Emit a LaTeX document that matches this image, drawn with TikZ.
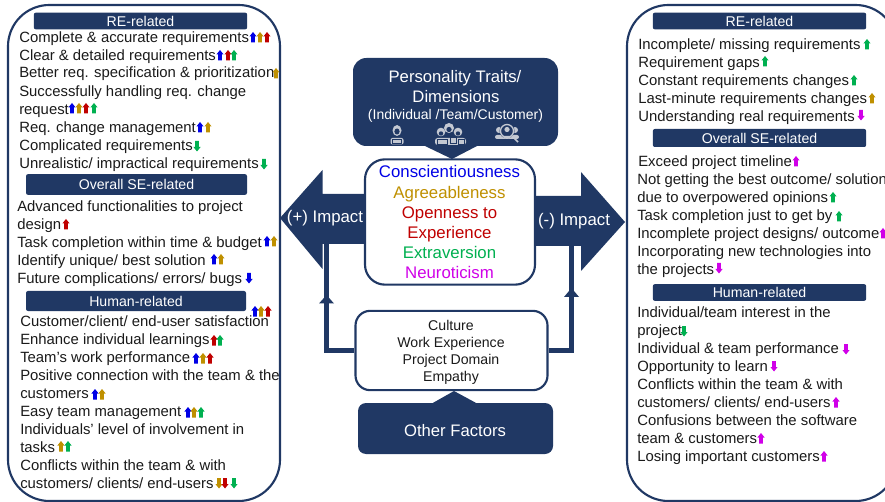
\documentclass[tikz,border=0pt]{standalone}
\usepackage{fontspec}
\setmainfont{Liberation Sans}
\usetikzlibrary{arrows.meta,calc}
\definecolor{navy}{HTML}{203864}
\definecolor{tblue}{HTML}{0000E6}
\definecolor{tgold}{HTML}{BF9000}
\definecolor{tred}{HTML}{C00000}
\definecolor{tgreen}{HTML}{00B050}
\definecolor{tpurple}{HTML}{D000E8}
\definecolor{ink}{HTML}{1A1A1A}
\definecolor{icon}{HTML}{C3C8D2}
\tikzset{
  px/.style={x=0.75pt,y=-0.75pt},
  item/.style={anchor=base west,inner sep=0pt,yshift=-0.6pt,text=ink,font=\fontsize{11.15}{12}\selectfont},
  panel/.style={draw=navy,line width=1.6pt,fill=white,rounded corners=31pt},
  band/.style={fill=navy,rounded corners=1.5pt,text=white,font=\fontsize{10.6}{12}\selectfont,align=center,inner sep=0pt},
  trait/.style={anchor=base,inner sep=0pt,yshift=-0.6pt,font=\fontsize{12.6}{14}\selectfont},
  factor/.style={anchor=base,inner sep=0pt,text=ink,font=\fontsize{10.6}{12}\selectfont},
  whitetext/.style={anchor=base,inner sep=0pt,text=white},
  conn/.style={draw=navy,line width=3.3pt},
  connhead/.style={fill=navy,draw=none},
  navyshape/.style={fill=navy,draw=none},
  up/.pic={\fill[pic actions] (-1.8,10.5) -- (-1.8,4.5) -- (-3.6,4.5) -- (0,0) -- (3.6,4.5) -- (1.8,4.5) -- (1.8,10.5) -- cycle;},
  down/.pic={\fill[pic actions] (-1.8,0) -- (-1.8,6) -- (-3.6,6) -- (0,10.5) -- (3.6,6) -- (1.8,6) -- (1.8,0) -- cycle;},
}
\newcommand{\itm}[4]{\node[item] (#1) at (#2,#3) {#4};}
\newcommand{\ups}[3]{\pic[#1] at (#2,#3) {up};}
\newcommand{\dns}[3]{\pic[#1] at (#2,#3) {down};}
\begin{document}
\begin{tikzpicture}[px]
\useasboundingbox (0,0) rectangle (885,502);
\begin{scope}
\clip (0,0) rectangle (885,502);
% outer panels
\path[panel] (8,5) rectangle (280,501);
\path[panel] (627,5) rectangle (897,501);
\end{scope}

% bands
\node[band,minimum width=160pt,minimum height=12.5pt] (lre) at (140.5,21) {RE-related};
\node[band,minimum width=165.75pt,minimum height=15.5pt] (lse) at (136.5,184.5) {Overall SE-related};
\node[band,minimum width=165pt,minimum height=15pt] (lhu) at (136,301) {Human-related};
\node[band,minimum width=160pt,minimum height=12.5pt] (rre) at (759.5,21) {RE-related};
\node[band,minimum width=160pt,minimum height=13.5pt] (rse) at (759.5,138) {Overall SE-related};
\node[band,minimum width=160pt,minimum height=12.5pt] (rhu) at (759.5,292.5) {Human-related};

% left items
\itm{l1}{19}{42}{Complete \& accurate requirements}
\itm{l2}{19}{59.5}{Clear \& detailed requirements}
\itm{l3}{19}{77}{Better req. specification \& prioritization}
\itm{l4}{19}{95.5}{Successfully handling req. change}
\itm{l5}{19}{113.5}{request}
\itm{l6}{19}{131.5}{Req. change management}
\itm{l7}{19}{150}{Complicated requirements}
\itm{l8}{19}{167.5}{Unrealistic/ impractical requirements}
\itm{l9}{17}{211}{Advanced functionalities to project}
\itm{l10}{17}{229}{design}
\itm{l11}{17}{247}{Task completion within time \& budget}
\itm{l12}{17}{265}{Identify unique/ best solution}
\itm{l13}{17}{283}{Future complications/ errors/ bugs}
\itm{l14}{20}{326}{Customer/client/ end-user satisfaction}
\itm{l15}{20}{344}{Enhance individual learnings}
\itm{l16}{20}{362}{Team’s work performance}
\itm{l17}{20}{380}{Positive connection with the team \& the}
\itm{l18}{20}{398}{customers}
\itm{l19}{20}{416}{Easy team management}
\itm{l20}{20}{434}{Individuals’ level of involvement in}
\itm{l21}{20}{452}{tasks}
\itm{l22}{20}{470}{Conflicts within the team \& with}
\itm{l23}{20}{488}{customers/ clients/ end-users}

% right items
\itm{r1}{638}{49}{Incomplete/ missing requirements}
\itm{r2}{638}{67}{Requirement gaps}
\itm{r3}{638}{85}{Constant requirements changes}
\itm{r4}{638}{103}{Last-minute requirements changes}
\itm{r5}{638}{121}{Understanding real requirements}
\itm{r6}{638}{166}{Exceed project timeline}
\itm{r7}{637}{184}{Not getting the best outcome/ solution}
\itm{r8}{637}{202}{due to overpowered opinions}
\itm{r9}{637}{220}{Task completion just to get by}
\itm{r10}{637}{238}{Incomplete project designs/ outcome}
\itm{r11}{637}{256}{Incorporating new technologies into}
\itm{r12}{637}{274}{the projects}
\itm{r13}{637}{317}{Individual/team interest in the}
\itm{r14}{637}{335}{project}
\itm{r15}{637}{353}{Individual \& team performance}
\itm{r16}{637}{371}{Opportunity to learn}
\itm{r17}{637}{389}{Conflicts within the team \& with}
\itm{r18}{637}{407}{customers/ clients/ end-users}
\itm{r19}{637}{425}{Confusions between the software}
\itm{r20}{637}{443}{team \& customers}
\itm{r21}{637}{461}{Losing important customers}

% left small arrows
\ups{tblue}{253}{32}\ups{tgold}{260}{32}\ups{tred}{267}{32}
\ups{tblue}{220}{50}\ups{tred}{228}{50}\ups{tgreen}{234}{50}
\ups{tgold}{276}{68}
\ups{tblue}{72}{103}\ups{tgold}{79}{103}\ups{tred}{86}{103}\ups{tgreen}{94}{103}
\ups{tblue}{200}{122}\ups{tgold}{208}{122}
\dns{tgreen}{197}{141}
\dns{tgreen}{264}{159}
\ups{tred}{66}{219}
\ups{tblue}{267}{236}\ups{tgold}{274}{236}
\ups{tblue}{214}{254}\ups{tgold}{221}{254}
\dns{tblue}{249}{273}
\ups{tblue}{255}{306}\ups{tgold}{261}{306}\ups{tred}{268}{306}
\ups{tred}{214}{335}\ups{tgreen}{220}{335}
\ups{tblue}{196}{353}\ups{tgold}{203}{353}\ups{tred}{210}{353}
\ups{tblue}{95}{389}\ups{tgold}{102}{389}
\ups{tblue}{188}{407}\ups{tgold}{194}{407}\ups{tgreen}{201}{407}
\ups{tgold}{61}{441}\ups{tgreen}{68}{441}
\dns{tgold}{219}{478}\dns{tred}{225}{478}\dns{tgreen}{234}{478}

% right small arrows
\ups{tgreen}{867}{39}
\ups{tgreen}{765}{56}
\ups{tgreen}{854}{75}
\ups{tgold}{872}{93}
\dns{tpurple}{861}{110}
\ups{tpurple}{796}{156}
\ups{tgreen}{833}{192}
\ups{tgreen}{839}{211}
\ups{tpurple}{883}{228}
\dns{tpurple}{719}{263}
\dns{tgreen}{684}{326}
\dns{tpurple}{846}{344}
\dns{tpurple}{774}{361}
\ups{tpurple}{836}{397}
\ups{tpurple}{761}{433}
\ups{tpurple}{824}{451}

% big arrows
\fill[navyshape] (400,194) -- (322.5,194) -- (322.5,170) -- (280,218) -- (322.5,269) -- (322.5,244) -- (400,244) -- cycle;
\fill[navyshape] (500,196) -- (581,196) -- (581,172) -- (625,222) -- (581,271) -- (581,246) -- (500,246) -- cycle;
\node[whitetext,font=\fontsize{12.6}{14}\selectfont] (plus) at (325,223) {(+) Impact};
\node[whitetext,font=\fontsize{12.6}{14}\selectfont] (minus) at (574,226) {(-) Impact};

% connectors from other factors
\coordinate (lheadtip) at (326.5,295);
\coordinate (rheadtip) at (571.5,288);
\coordinate (ltop) at (326.5,244);
\coordinate (rtop) at (571.5,246);
\node[draw=navy,line width=1.6pt,fill=white,rounded corners=11pt,minimum width=144pt,minimum height=59.5pt,inner sep=0pt] (factors) at (451.5,350.5) {};
\draw[conn] (factors.west) -| (ltop);
\draw[conn] (factors.east) -| (rtop);
\fill[connhead] (lheadtip) -- ++(7.5,8.5) -- ++(-15,0) -- cycle;
\fill[connhead] (rheadtip) -- ++(7.5,9) -- ++(-15,0) -- cycle;

% top callout
\fill[navyshape,rounded corners=10pt] (353,58) rectangle (558,146);
\fill[navyshape] (425,146) -- (452,159) -- (477,146) -- cycle;
\node[whitetext,font=\fontsize{12.5}{14}\selectfont] (ptitle) at (455,83) {Personality Traits/};
\node[whitetext,font=\fontsize{12.5}{14}\selectfont] (pdim) at (456,103) {Dimensions};
\node[whitetext,font=\fontsize{10.5}{12}\selectfont] (psub) at (455.5,119.5) {(Individual /Team/Customer)};

% icons
% single person with laptop
\fill[icon] (397,130.5) ellipse (4.5 and 5.5);
\fill[navy] (397,131.5) ellipse (2.6 and 3);
\fill[icon,rounded corners=1.5pt] (390.5,144.5) -- (390.5,138) -- (403.5,138) -- (403.5,144.5) -- cycle;
\draw[navy,line width=0.4pt] (392.5,139.5) rectangle (401.5,143);
% group with laptops
\fill[icon] (449,128) circle (5);
\fill[icon] (441,132) circle (4.3);
\fill[icon] (458,132) circle (4.3);
\fill[navy] (449,129.5) circle (2.6);
\fill[navy] (441,133.5) circle (2.2);
\fill[navy] (458,133.5) circle (2.2);
\fill[icon,rounded corners=2pt] (435,145) -- (435,138) -- (466,138) -- (466,145) -- cycle;
\draw[navy,line width=0.4pt] (437.5,139) rectangle (447,144);
\draw[navy,line width=0.4pt] (450,137.5) rectangle (456,143);
\draw[navy,line width=0.4pt] (458,139) rectangle (464.5,144);
% people with magnifier
\fill[icon] (499,130) circle (3);
\fill[icon] (515,130) circle (3);
\fill[icon,rounded corners=1.5pt] (495,139) -- (495,135) -- (519,135) -- (519,139) -- cycle;
\fill[navy] (507,131) circle (7.5);
\draw[icon,line width=1pt] (507,131) circle (6.5);
\fill[icon] (507,129.5) circle (2.6);
\fill[icon] (502.5,136) arc (180:0:4.5 and 3) -- cycle;
\draw[icon,line width=1.3pt] (512,136) -- (518,142);

% trait box
\node[draw=navy,line width=1.6pt,fill=white,rounded corners=15pt,minimum width=127.5pt,minimum height=94pt,inner sep=0pt] (traits) at (450,222) {};
\node[trait,text=tblue] (t1) at (449.5,177) {Conscientiousness};
\node[trait,text=tgold] (t2) at (449.5,198) {Agreeableness};
\node[trait,text=tred] (t3) at (449.5,218) {Openness to};
\node[trait,text=tred] (t4) at (449.5,238) {Experience};
\node[trait,text=tgreen] (t5) at (449.5,258) {Extraversion};
\node[trait,text=tpurple] (t6) at (449.5,278) {Neuroticism};

% factors text
\node[factor] (f1) at (451,330) {Culture};
\node[factor] (f2) at (451,347) {Work Experience};
\node[factor] (f3) at (451,364) {Project Domain};
\node[factor] (f4) at (451,381) {Empathy};

% other factors
\fill[navyshape,rounded corners=6pt] (358,403) rectangle (553,454);
\fill[navyshape] (431,404) -- (454,391) -- (478,404) -- cycle;
\node[whitetext,font=\fontsize{12.5}{14}\selectfont] (other) at (455,436) {Other Factors};
\end{tikzpicture}
\end{document}
